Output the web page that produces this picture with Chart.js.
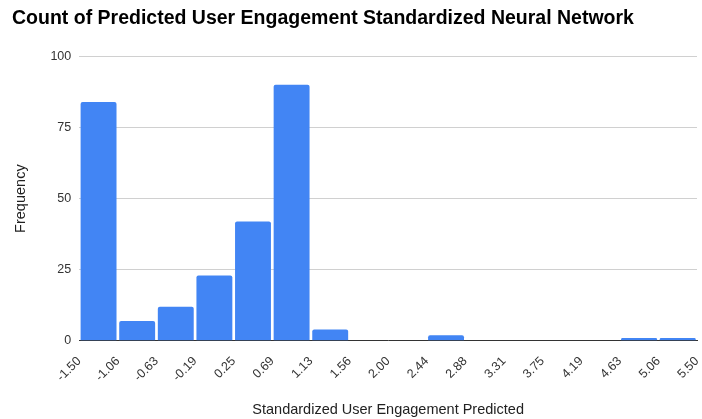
<!DOCTYPE html>
<html>
<head>
<meta charset="utf-8">
<script src="https://cdn.jsdelivr.net/npm/chart.js@4/dist/chart.umd.min.js"></script>
<style>
  html, body { margin: 0; padding: 0; background: #fff; }
  #wrap { width: 702px; height: 419px; }
</style>
</head>
<body>
<div id="wrap"><canvas id="chart"></canvas></div>
<script>
// bin edges as shown on the x axis
const edgeLabels = ['-1.50', '-1.06', '-0.63', '-0.19', '0.25', '0.69', '1.13', '1.56',
  '2.00', '2.44', '2.88', '3.31', '3.75', '4.19', '4.63', '5.06', '5.50'];
// count per bin (16 bins between the edges)
const frequency = [84, 7, 12, 23, 42, 90, 4, 0, 0, 2, 0, 0, 0, 0, 1, 1];
const yTicks = [0, 25, 50, 75, 100];

const binLabels = frequency.map((_, i) => edgeLabels[i] + ' - ' + edgeLabels[i + 1]);
const FONT = '"Liberation Sans", Arial, sans-serif';

const ctx = document.getElementById('chart').getContext('2d');
new Chart(ctx, {
    type: 'bar',
    data: {
        labels: binLabels,
        datasets: [{
            label: 'Frequency',
            data: frequency,
            backgroundColor: '#4285f4',
            barPercentage: 0.93,
            categoryPercentage: 1.0,
            borderRadius: { topLeft: 2, topRight: 2 },
            borderSkipped: 'bottom'
        }]
    },
    options: {
        responsive: true,
        maintainAspectRatio: false,
        animation: false,
        layout: { padding: { left: 12, right: 5, top: 6, bottom: 0 } },
        plugins: {
            legend: { display: false },
            tooltip: { enabled: false },
            title: {
                display: true,
                text: 'Count of Predicted User Engagement Standardized Neural Network',
                align: 'start',
                color: '#000',
                font: { family: FONT, size: 19.5, weight: 'bold' },
                padding: { top: 1, bottom: 26 }
            }
        },
        scales: {
            x: {
                display: false
            },
            xEdge: {
                type: 'category',
                position: 'bottom',
                labels: edgeLabels,
                offset: false,
                grid: { display: false },
                border: { display: true, color: '#333', width: 1 },
                // rotated last label hangs to the left, no room needed on the right
                afterFit: axis => { axis.paddingRight = 0; },
                ticks: {
                    color: '#333',
                    font: { family: FONT, size: 12.5 },
                    minRotation: 45,
                    maxRotation: 45,
                    autoSkip: false,
                    padding: 5
                },
                title: {
                    display: true,
                    text: 'Standardized User Engagement Predicted',
                    color: '#222',
                    font: { family: FONT, size: 14.5 },
                    padding: { top: 12, bottom: 0 }
                }
            },
            y: {
                min: 0,
                max: 100,
                afterBuildTicks: axis => { axis.ticks = yTicks.map(v => ({ value: v })); },
                grid: { color: '#d0d0d0', drawTicks: false },
                border: { display: false },
                ticks: {
                    color: '#333',
                    font: { family: FONT, size: 12.5 },
                    padding: 8
                },
                title: {
                    display: true,
                    text: 'Frequency',
                    color: '#222',
                    font: { family: FONT, size: 14.5 },
                    padding: { top: 0, bottom: 13 }
                }
            }
        }
    }
});
</script>
</body>
</html>
